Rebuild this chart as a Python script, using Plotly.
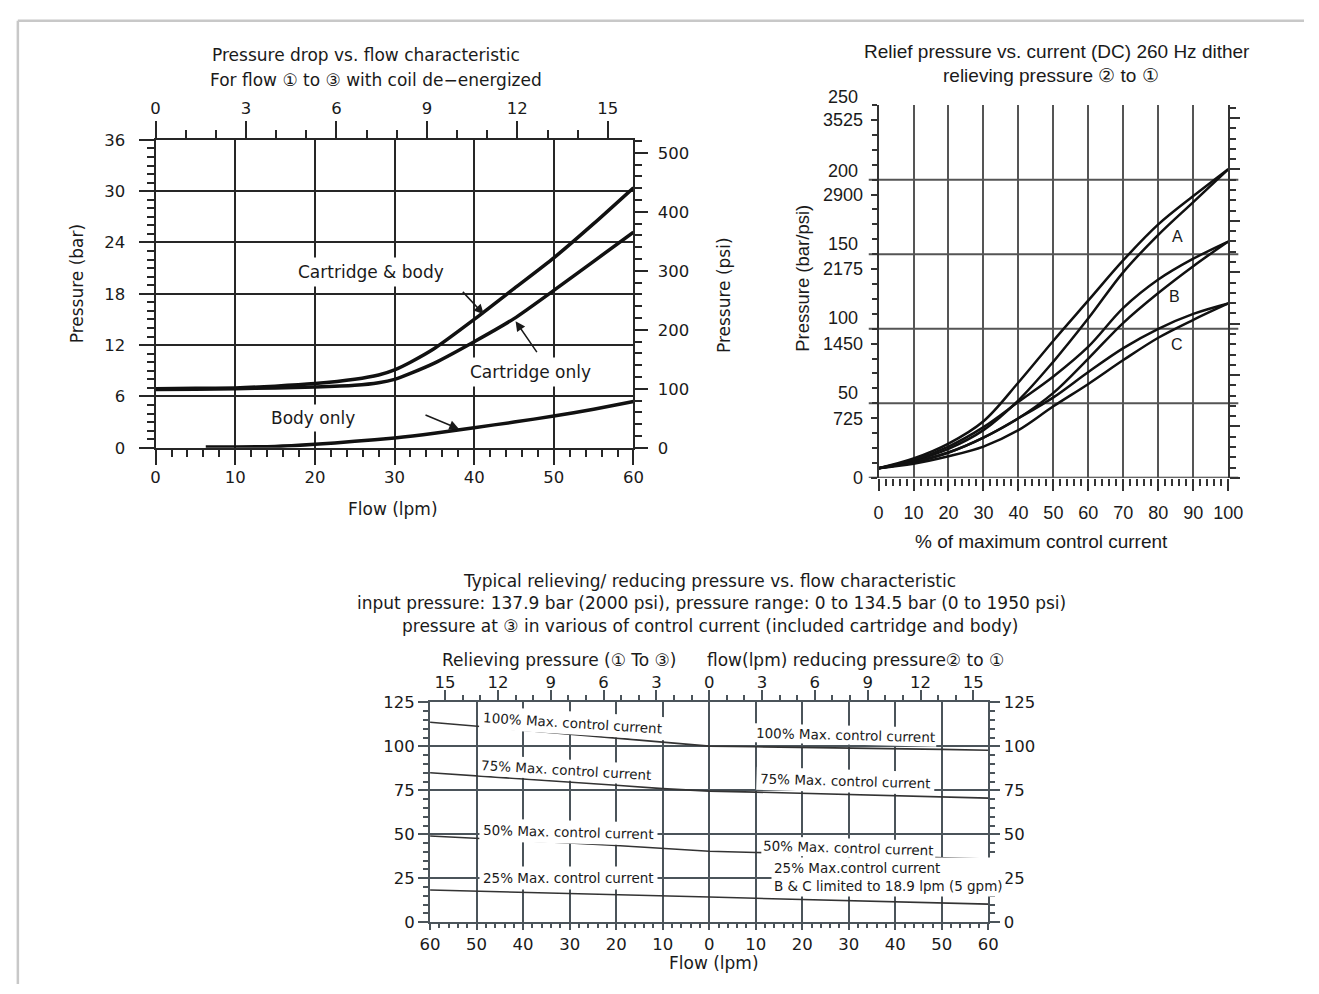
import plotly.graph_objects as go

W, H = 1319, 994


def fx(p):
    return p / W


def fy(p):
    return 1 - p / H


FONT1 = "DejaVu Sans"
FONT2 = "Liberation Sans, Arial, sans-serif"
TXT = "#1a1a1a"

# ---------------- Chart 1 data: pressure drop vs flow ----------------
flow_cb = [0, 5, 10, 15, 20, 25, 28, 30, 32, 35, 40, 45, 50, 55, 60]
cartridge_body = [6.9, 6.95, 7.0, 7.2, 7.5, 8.0, 8.5, 9.1, 10.0, 11.6, 15.0, 18.6, 22.2, 26.2, 30.4]
cartridge_only = [6.8, 6.85, 6.9, 7.0, 7.1, 7.3, 7.6, 8.0, 8.7, 9.9, 12.4, 15.1, 18.4, 21.8, 25.2]
flow_body = [6.3, 10, 15, 20, 25, 30, 35, 40, 45, 50, 55, 60]
body_only = [0.1, 0.1, 0.15, 0.4, 0.75, 1.15, 1.7, 2.35, 3.0, 3.7, 4.5, 5.4]

# ---------------- Chart 2 data: relief pressure vs current ----------------
pct_current = [0, 10, 20, 30, 40, 50, 60, 70, 80, 90, 100]
A_up = [6.5, 13, 23, 38, 64, 92, 119, 146, 170, 189, 207]
A_dn = [6.5, 11.5, 19.5, 32, 52, 78, 107, 138, 163, 185, 207]
B_up = [6.5, 12, 21, 34, 51, 68, 88, 114, 133, 147, 158.5]
B_dn = [6.5, 10.5, 17, 27, 40, 57, 80, 104, 124, 142, 158.5]
C_up = [6.5, 10.5, 17, 27, 40, 54, 71, 87, 100, 110, 117]
C_dn = [6.5, 9.5, 14.5, 21, 32, 48, 63, 79, 94, 106, 117]

# ---------------- Chart 3 data: relieving / reducing pressure vs flow ----------------
flow3 = [-60, -50, -40, -30, -20, -10, 0, 10, 20, 30, 40, 50, 60]
cur100 = [113.8, 111.5, 109.4, 107.2, 104.9, 102.5, 100.2, 99.8, 99.5, 99.2, 98.8, 98.3, 97.8]
cur75 = [85.0, 83.3, 81.6, 79.8, 77.9, 76.0, 74.6, 74.0, 73.3, 72.7, 72.0, 71.3, 70.6]
cur50 = [49.0, 47.8, 46.5, 45.1, 43.6, 42.1, 40.4, 39.7, 38.9, 38.2, 37.4, 36.7, 35.9]
cur25 = [18.3, 17.7, 17.1, 16.4, 15.7, 15.0, 14.3, 13.6, 13.0, 12.4, 11.7, 11.0, 10.3]

LPM_PER_GPM = 3.785
PSI_PER_BAR = 14.5038

fig = go.Figure()

# Chart 1 traces
for xs, ys in [(flow_cb, cartridge_body), (flow_cb, cartridge_only), (flow_body, body_only)]:
    fig.add_trace(go.Scatter(x=xs, y=ys, mode="lines", xaxis="x", yaxis="y",
                             line=dict(color="#111111", width=3.5, shape="spline", smoothing=0.6),
                             hoverinfo="skip", showlegend=False))
fig.add_trace(go.Scatter(x=[0], y=[0], xaxis="x2", yaxis="y2", mode="markers",
                         marker=dict(opacity=0), hoverinfo="skip", showlegend=False))

# Chart 2 traces
for ys in [A_up, A_dn, B_up, B_dn, C_up, C_dn]:
    fig.add_trace(go.Scatter(x=pct_current, y=ys, mode="lines", xaxis="x3", yaxis="y3",
                             line=dict(color="#111111", width=2.5, shape="spline", smoothing=1.0),
                             hoverinfo="skip", showlegend=False))
fig.add_trace(go.Scatter(x=[0], y=[0], xaxis="x3", yaxis="y4", mode="markers",
                         marker=dict(opacity=0), hoverinfo="skip", showlegend=False))

# Chart 3 traces
for ys in [cur100, cur75, cur50, cur25]:
    fig.add_trace(go.Scatter(x=flow3, y=ys, mode="lines", xaxis="x4", yaxis="y5",
                             line=dict(color="#333333", width=1.6),
                             hoverinfo="skip", showlegend=False))
fig.add_trace(go.Scatter(x=[0], y=[0], xaxis="x5", yaxis="y6", mode="markers",
                         marker=dict(opacity=0), hoverinfo="skip", showlegend=False))

C1 = "#262626"
C2 = "#555555"
C2L = "#333333"
C3 = "#4b545a"


def axis(color, font, size, **kw):
    d = dict(showline=True, linecolor=color, linewidth=2, ticks="outside", tickwidth=2,
             tickcolor=color, zeroline=False, showgrid=False, fixedrange=True,
             tickfont=dict(family=font, size=size, color=TXT))
    d.update(kw)
    return d


def minor(color, dtick, ln, tick0=0):
    return dict(ticks="outside", dtick=dtick, tick0=tick0, ticklen=ln, tickwidth=1.5,
                tickcolor=color, showgrid=False)


layout_axes = dict(
    # chart 1
    xaxis=axis(C1, FONT1, 16.5, domain=[fx(147.5), fx(635)], range=[0, 60], anchor="y",
               tickmode="linear", tick0=0, dtick=10, ticklen=15, showgrid=True,
               gridcolor=C1, gridwidth=2, minor=minor(C1, 2, 7), ticklabelstandoff=-2),
    yaxis=axis(C1, FONT1, 16.5, domain=[fy(447.3), fy(133.4)], range=[0, 36], anchor="x",
               tickmode="linear", tick0=0, dtick=6, ticklen=15, showgrid=True,
               gridcolor=C1, gridwidth=2, minor=minor(C1, 1, 7), ticklabelstandoff=10),
    xaxis2=axis(C1, FONT1, 16.5, overlaying="x", side="top", anchor="y",
                range=[0, 60 / LPM_PER_GPM], tickmode="linear", tick0=0, dtick=3, ticklen=17,
                minor=minor(C1, 1, 8), ticklabelstandoff=0),
    yaxis2=axis(C1, FONT1, 16.5, overlaying="y", side="right", anchor="x",
                range=[0, 36 * PSI_PER_BAR], tickmode="linear", tick0=0, dtick=100, ticklen=13,
                minor=minor(C1, 20, 7), ticklabelstandoff=6),
    # chart 2
    xaxis3=axis(C2L, FONT2, 18, domain=[fx(885), fx(1241.7)], range=[0, 100], anchor="y3",
                tickmode="linear", tick0=0, dtick=10, ticklen=12, showline=False,
                showgrid=True, gridcolor=C2, gridwidth=2, minor=minor(C2L, 2, 7),
                ticklabelstandoff=7),
    yaxis3=axis(C2L, FONT2, 18, domain=[fy(478), fy(98)], range=[0, 250], anchor="x3",
                tickmode="array", tickvals=[0, 40, 90, 140, 190, 240],
                ticktext=["0", "725", "1450", "2175", "2900", "3525"], ticklen=6,
                minor=minor(C2L, 10, 5), ticklabelstandoff=4),
    yaxis4=axis(C2L, FONT2, 18, overlaying="y3", side="right", anchor="x3",
                range=[0, 250 * PSI_PER_BAR], tickmode="linear", tick0=0, dtick=500,
                ticklen=10, minor=minor(C2L, 100, 6), showticklabels=False),
    # chart 3
    xaxis4=axis(C3, FONT1, 16.5, domain=[fx(427.5), fx(997)], range=[-60, 60], anchor="y5",
                tickmode="array", tickvals=list(range(-60, 61, 10)),
                ticktext=[str(abs(v)) for v in range(-60, 61, 10)], ticklen=6,
                showgrid=True, gridcolor=C3, gridwidth=2, minor=minor(C3, 2, 4),
                ticklabelstandoff=0),
    yaxis5=axis(C3, FONT1, 16.5, domain=[fy(931), fy(707)], range=[0, 125], anchor="x4",
                tickmode="array", tickvals=[0, 25, 50, 75, 100, 125], ticklen=10,
                showgrid=True, gridcolor=C3, gridwidth=2, minor=minor(C3, 5, 5),
                ticklabelstandoff=0),
    xaxis5=axis(C3, FONT1, 16.5, overlaying="x4", side="top", anchor="y5",
                range=[-60 / LPM_PER_GPM, 60 / LPM_PER_GPM], tickmode="array",
                tickvals=list(range(-15, 16, 3)),
                ticktext=[str(abs(v)) for v in range(-15, 16, 3)], ticklen=10,
                minor=minor(C3, 1, 5), ticklabelstandoff=-4),
    yaxis6=axis(C3, FONT1, 16.5, overlaying="y5", side="right", anchor="x4", range=[0, 125],
                tickmode="array", tickvals=[0, 25, 50, 75, 100, 125], ticklen=10,
                minor=minor(C3, 5, 5), ticklabelstandoff=0),
)

annotations = []


def label(text, x, y, size, font, angle=0, xanchor="center", **kw):
    d = dict(text=text, x=fx(x), y=fy(y), xref="paper", yref="paper", showarrow=False,
             xanchor=xanchor, yanchor="middle", textangle=angle,
             font=dict(family=font, size=size, color=TXT))
    d.update(kw)
    annotations.append(d)


def dlabel(text, x, y, xr, yr, size, font, angle=0, bg=None, pad=3, xanchor="center", align="center"):
    d = dict(text=text, x=x, y=y, xref=xr, yref=yr, showarrow=False, xanchor=xanchor,
             yanchor="middle", textangle=angle, align=align, borderpad=pad,
             font=dict(family=font, size=size, color=TXT))
    if bg:
        d["bgcolor"] = bg
    annotations.append(d)


def arrow(x, y, ax, ay, xr, yr):
    annotations.append(dict(text="", x=x, y=y, ax=ax, ay=ay, xref=xr, yref=yr, axref=xr,
                            ayref=yr, showarrow=True, arrowhead=2, arrowsize=1.3,
                            arrowwidth=1.5, arrowcolor=TXT))


# chart 1 text
label("Pressure drop vs. flow characteristic", 362.5, 47, 17, FONT1)
label("For flow \u2460 to \u2462 with coil de\u2212energized", 372, 72, 17, FONT1)
label("Pressure (bar)", 67, 280, 17, FONT1, angle=-90)
label("Pressure (psi)", 728, 292, 17, FONT1, angle=-90)
label("Flow (lpm)", 390, 510, 17, FONT1)
dlabel("Cartridge &amp; body", 27.1, 20.6, "x", "y", 17, FONT1, bg="white", pad=4)
dlabel("Cartridge only", 47.1, 8.9, "x", "y", 17, FONT1, bg="white", pad=4)
dlabel("Body only", 19.7, 3.5, "x", "y", 17, FONT1, bg="white", pad=3)
arrow(41.2, 15.6, 38.4, 18.4, "x", "y")
arrow(45.2, 14.8, 48.0, 11.0, "x", "y")
arrow(38.1, 2.2, 33.7, 3.9, "x", "y")

# chart 2 text
label("Relief pressure vs. current (DC) 260 Hz dither", 1067, 43, 19, FONT2)
label("relieving pressure \u2461 to \u2460", 1061, 68, 19, FONT2)
label("Pressure (bar/psi)", 808, 275, 18.5, FONT2, angle=-90)
label("% of maximum control current", 1051, 543, 19, FONT2)
for t, yy in [("250", 90), ("200", 165), ("150", 240), ("100", 315), ("50", 391)]:
    label(t, 866, yy, 18, FONT2, xanchor="right")
dlabel("A", 85.4, 162, "x3", "y3", 16, FONT2)
dlabel("B", 84.7, 121.5, "x3", "y3", 16, FONT2)
dlabel("C", 85.4, 89.7, "x3", "y3", 16, FONT2)

# chart 3 text
label("Typical relieving/ reducing pressure vs. flow characteristic", 713, 583, 17, FONT1)
label("input pressure: 137.9 bar (2000 psi), pressure range: 0 to 134.5 bar (0 to 1950 psi)",
      715, 606, 17, FONT1)
label("pressure at \u2462 in various of control current (included cartridge and body)",
      713, 629, 17, FONT1)
label("Relieving pressure (\u2460 To \u2462)", 559, 664, 17, FONT1)
label("flow(lpm) reducing pressure\u2461 to \u2460", 861, 664, 17, FONT1)
label("Flow (lpm)", 717, 973, 17, FONT1)
dlabel("100% Max. control current", -29.3, 113.3, "x4", "y5", 13.5, FONT1, angle=3.6, bg="white", pad=3)
dlabel("100% Max. control current", 29.4, 106.6, "x4", "y5", 13.5, FONT1, angle=1.4, bg="white", pad=1)
dlabel("75% Max. control current", -30.7, 86.5, "x4", "y5", 13.5, FONT1, angle=3.4, bg="white", pad=2)
dlabel("75% Max. control current", 29.4, 80.4, "x4", "y5", 13.5, FONT1, angle=1.7, bg="white", pad=3)
dlabel("50% Max. control current", -30.2, 51.3, "x4", "y5", 13.5, FONT1, angle=1.5, bg="white", pad=3)
dlabel("50% Max. control current", 30.0, 42.4, "x4", "y5", 13.5, FONT1, angle=1.7, bg="white", pad=1)
dlabel("25% Max. control current", -30.2, 25.1, "x4", "y5", 13.5, FONT1, bg="white", pad=3)
dlabel("25% Max.control current<br>B &amp; C limited to 18.9 lpm (5 gpm)", 13.2, 26.0, "x4", "y5",
       13.5, FONT1, bg="white", pad=2, xanchor="left", align="left")

shapes = []
# chart 2 horizontal grid lines (extend past both axes)
for v in [0, 50, 100, 150, 200]:
    shapes.append(dict(type="line", xref="paper", yref="y3", x0=fx(875), x1=fx(1252), y0=v, y1=v,
                       line=dict(color=C2L if v == 0 else C2, width=2), layer="below"))
# page border
shapes.append(dict(type="line", xref="paper", yref="paper", x0=fx(7), x1=1, y0=fy(12), y1=fy(12),
                   line=dict(color="#c8c8c8", width=2.5)))
shapes.append(dict(type="line", xref="paper", yref="paper", x0=fx(7), x1=fx(7), y0=fy(12), y1=0,
                   line=dict(color="#c8c8c8", width=2.5)))

fig.update_layout(
    width=W, height=H, margin=dict(l=0, r=0, t=0, b=0),
    paper_bgcolor="white", plot_bgcolor="white", showlegend=False,
    annotations=annotations, shapes=shapes, **layout_axes,
)

fig.write_html(
    "out.html",
    config={"displayModeBar": False},
    post_script=(
        "document.body.style.margin='0';document.body.style.padding='0';"
        "document.documentElement.style.overflow='hidden';"
    ),
)
